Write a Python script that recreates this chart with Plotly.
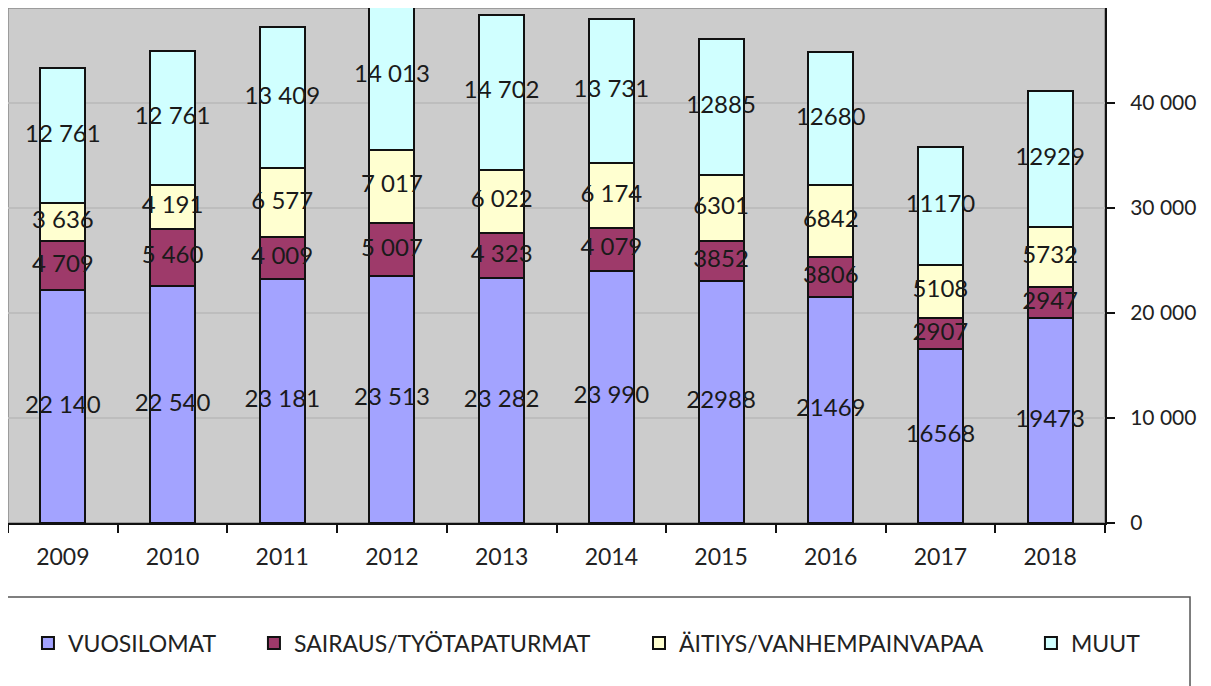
import plotly.graph_objects as go

years = ["2009", "2010", "2011", "2012", "2013", "2014", "2015", "2016", "2017", "2018"]
vuosilomat = [22140, 22540, 23181, 23513, 23282, 23990, 22988, 21469, 16568, 19473]
sairaus = [4709, 5460, 4009, 5007, 4323, 4079, 3852, 3806, 2907, 2947]
aitiys = [3636, 4191, 6577, 7017, 6022, 6174, 6301, 6842, 5108, 5732]
muut = [12761, 12761, 13409, 14013, 14702, 13731, 12885, 12680, 11170, 12929]

vuosilomat_lbl = ["22 140", "22 540", "23 181", "23 513", "23 282", "23 990", "22988", "21469", "16568", "19473"]
sairaus_lbl = ["4 709", "5 460", "4 009", "5 007", "4 323", "4 079", "3852", "3806", "2907", "2947"]
aitiys_lbl = ["3 636", "4 191", "6 577", "7 017", "6 022", "6 174", "6301", "6842", "5108", "5732"]
muut_lbl = ["12 761", "12 761", "13 409", "14 013", "14 702", "13 731", "12885", "12680", "11170", "12929"]

series = [
    ("VUOSILOMAT", vuosilomat, vuosilomat_lbl, "#a3a3ff"),
    ("SAIRAUS/TYÖTAPATURMAT", sairaus, sairaus_lbl, "#9e3a6a"),
    ("ÄITIYS/VANHEMPAINVAPAA", aitiys, aitiys_lbl, "#ffffd0"),
    ("MUUT", muut, muut_lbl, "#d0ffff"),
]

FONT = "Lato"
legend_names = ["legend", "legend2", "legend3", "legend4"]
legend_x = [0.0182, 0.2242, 0.5752, 0.9325]

fig = go.Figure()
base = [0] * len(years)
label_x, label_y, label_t = [], [], []
for k, (name, vals, lbls, color) in enumerate(series):
    fig.add_trace(go.Bar(
        x=years, y=vals, name=name,
        marker=dict(color=color, line=dict(color="#111111", width=2)),
        width=0.41, hoverinfo="y+name", legend=legend_names[k],
    ))
    for i, v in enumerate(vals):
        label_x.append(years[i])
        label_y.append(base[i] + v / 2)
        label_t.append(lbls[i])
        base[i] += v

fig.add_trace(go.Scatter(
    x=label_x, y=label_y, text=label_t, mode="text",
    textfont=dict(family=FONT, size=24, color="#1a1a1a"),
    showlegend=False, hoverinfo="skip", cliponaxis=False,
))

legend_common = dict(
    orientation="h", xanchor="left", y=-0.233, yanchor="middle",
    font=dict(family=FONT, size=23, color="#222222"), bgcolor="rgba(0,0,0,0)",
)

fig.update_layout(
    barmode="stack",
    width=1203, height=678,
    margin=dict(l=0, r=106, t=0, b=163),
    paper_bgcolor="white",
    plot_bgcolor="#cccccc",
    separators=", ",
    font=dict(family=FONT, size=20, color="#222222"),
    xaxis=dict(
        type="category", tickson="boundaries", ticks="outside", ticklen=8,
        tickcolor="#111111", tickwidth=1.5,
        showline=True, linecolor="#111111", linewidth=2,
        showgrid=False, tickfont=dict(size=23, color="#222222"),
        ticklabelstandoff=12,
    ),
    yaxis=dict(
        side="right", range=[0, 49000], tickvals=[0, 10000, 20000, 30000, 40000],
        tickformat=",d", ticks="outside", ticklen=8, tickcolor="#111111", tickwidth=1.5,
        showline=True, linecolor="#111111", linewidth=2,
        showgrid=True, gridcolor="#bdbdbd", gridwidth=1.5, zeroline=False,
        tickfont=dict(size=21, color="#222222"), ticklabelstandoff=11,
    ),
    legend=dict(x=legend_x[0], **legend_common),
    legend2=dict(x=legend_x[1], **legend_common),
    legend3=dict(x=legend_x[2], **legend_common),
    legend4=dict(x=legend_x[3], **legend_common),
    shapes=[
        dict(type="rect", xref="paper", yref="paper", x0=0, x1=1, y0=0, y1=1,
             line=dict(color="#8c8c8c", width=1.5), layer="below"),
        dict(type="rect", xref="paper", yref="paper", x0=-0.0073, x1=1.0775, y0=-0.1437, y1=-0.36,
             line=dict(color="#555555", width=1.5), fillcolor="rgba(0,0,0,0)"),
    ],
)

fig.write_html("out.html")
